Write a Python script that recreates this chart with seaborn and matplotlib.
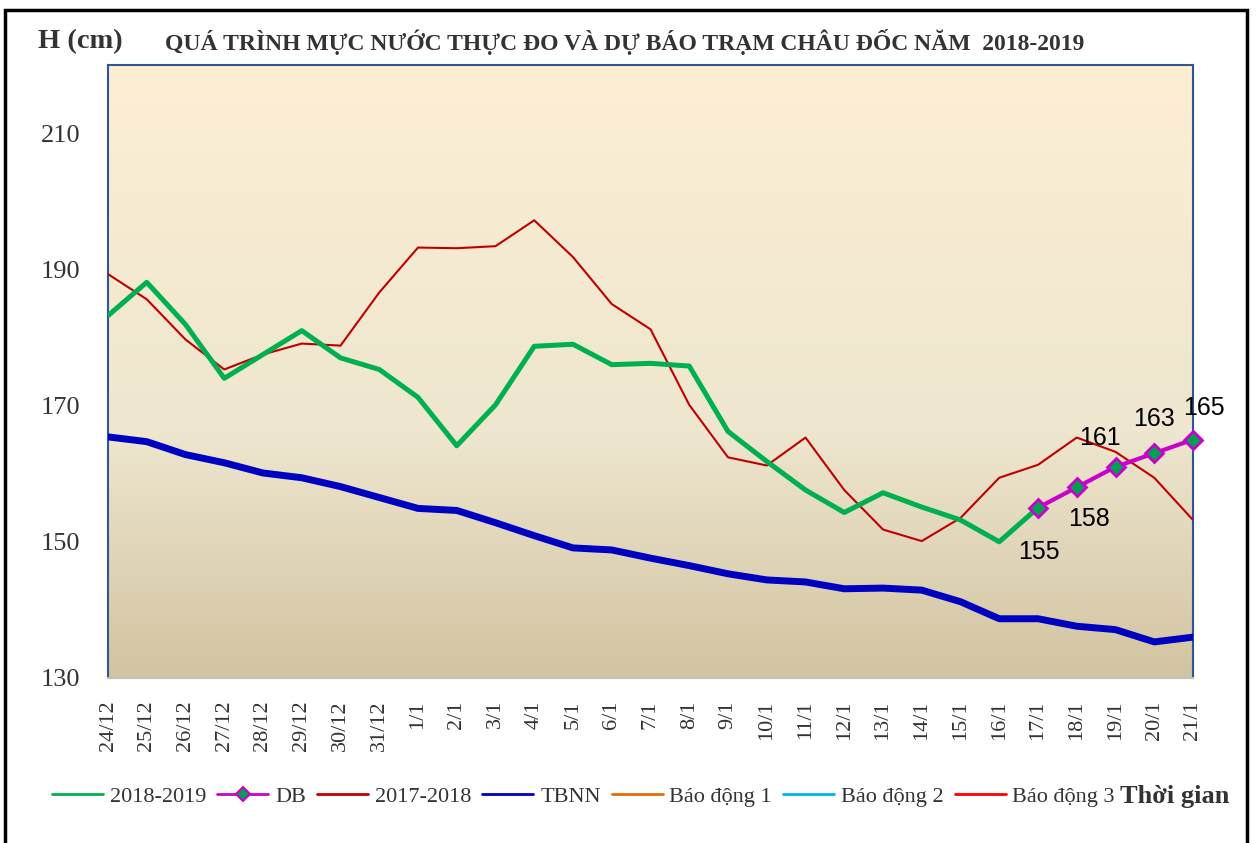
import numpy as np
import pandas as pd
import seaborn as sns
import matplotlib.pyplot as plt
from matplotlib.lines import Line2D
from matplotlib.colors import LinearSegmentedColormap
from matplotlib.patches import Rectangle

# ngay quan trac
ngay = ['24/12', '25/12', '26/12', '27/12', '28/12', '29/12', '30/12', '31/12',
        '1/1', '2/1', '3/1', '4/1', '5/1', '6/1', '7/1', '8/1', '9/1', '10/1',
        '11/1', '12/1', '13/1', '14/1', '15/1', '16/1', '17/1', '18/1', '19/1',
        '20/1', '21/1']

# muc nuoc (cm)
h_2018_2019 = [183.2, 188.1, 181.9, 174.0, 177.5, 181.0, 177.0, 175.3, 171.2, 164.1,
               170.1, 178.7, 179.0, 176.0, 176.2, 175.8, 166.2, 161.8, 157.6, 154.3,
               157.2, 155.1, 153.2, 150.0, 155.0]
h_db = [155, 158, 161, 163, 165]
h_2017_2018 = [189.3, 185.6, 179.7, 175.3, 177.5, 179.1, 178.8, 186.6, 193.2, 193.1,
               193.4, 197.2, 191.8, 184.9, 181.2, 170.1, 162.4, 161.2, 165.3, 157.6,
               151.8, 150.1, 153.5, 159.4, 161.3, 165.3, 163.2, 159.4, 153.2]
h_tbnn = [165.4, 164.7, 162.8, 161.6, 160.1, 159.4, 158.1, 156.5, 154.9, 154.6,
          152.8, 150.9, 149.1, 148.8, 147.6, 146.5, 145.3, 144.4, 144.1, 143.1,
          143.2, 142.9, 141.2, 138.7, 138.7, 137.6, 137.1, 135.3, 136.0]

x_all = np.arange(len(ngay))
df_18 = pd.DataFrame({'x': x_all[:len(h_2018_2019)], 'h': h_2018_2019})
df_db = pd.DataFrame({'x': x_all[-len(h_db):], 'h': h_db})
df_17 = pd.DataFrame({'x': x_all, 'h': h_2017_2018})
df_tb = pd.DataFrame({'x': x_all, 'h': h_tbnn})

sns.set_style("white")
plt.rcParams['font.family'] = ['Liberation Serif', 'DejaVu Serif']

fig = plt.figure(figsize=(12.58, 8.43), dpi=100)
ax = fig.add_axes([108 / 1258, 1 - 678 / 843, (1193 - 108) / 1258, (678 - 65) / 843])

# nen gradient
cmap = LinearSegmentedColormap.from_list('nen', [(0, '#d2c4a1'), (0.4, '#eee6cf'), (1, '#fdefd4')])
grad = np.linspace(0, 1, 256).reshape(-1, 1)
ax.imshow(grad, extent=[0, 28, 130, 220], origin='lower', aspect='auto', cmap=cmap, zorder=0)

sns.lineplot(data=df_tb, x='x', y='h', color='#0000c0', linewidth=5, ax=ax, zorder=3)
sns.lineplot(data=df_17, x='x', y='h', color='#c00000', linewidth=1.5, ax=ax, zorder=4)
sns.lineplot(data=df_18, x='x', y='h', color='#00b050', linewidth=3.6, ax=ax, zorder=5)
sns.lineplot(data=df_db, x='x', y='h', color='#cc00cc', linewidth=3, marker='D', markersize=9,
             markerfacecolor='#00a050', markeredgecolor='#cc00cc', markeredgewidth=2,
             ax=ax, zorder=6, clip_on=False)

# nhan du bao
offsets = [(1, -32), (9, -23), (-11, 21), (0, 25), (8, 23)]
for xi, v, off in zip(df_db['x'], df_db['h'], offsets):
    ax.annotate(str(v), (xi, v), xytext=off, textcoords='offset points', ha='center',
                va='center', fontsize=18, family='Liberation Sans', color='black', zorder=7)

ax.set_xlim(0, 28)
ax.set_ylim(130, 220)
ax.set_yticks([130, 150, 170, 190, 210])
ax.set_xticks(x_all)
ax.set_xticklabels(ngay, rotation=90, va='top')
ax.tick_params(axis='y', labelsize=19, pad=20, length=0, labelcolor='#333333')
ax.tick_params(axis='x', labelsize=16, pad=16, length=0, labelcolor='#333333')
ax.set_xlabel('')
ax.set_ylabel('')

for s in ['left', 'right', 'top']:
    ax.spines[s].set_color('#2f5597')
    ax.spines[s].set_linewidth(1.5)
ax.spines['bottom'].set_color('#bfbfbf')
ax.spines['bottom'].set_linewidth(1.5)

fig.text(38 / 1258, 1 - 42 / 843, 'H (cm)', fontsize=20.5, fontweight='bold', color='#333333', va='center')
fig.text(165 / 1258, 1 - 42 / 843, 'QUÁ TRÌNH MỰC NƯỚC THỰC ĐO VÀ DỰ BÁO TRẠM CHÂU ĐỐC NĂM  2018-2019',
         fontsize=17, fontweight='bold', color='#333333', va='center')

handles = [
    Line2D([], [], color='#00b050', lw=2),
    Line2D([], [], color='#cc00cc', lw=2, marker='D', markersize=7, markerfacecolor='#00a050',
           markeredgecolor='#cc00cc', markeredgewidth=1.5),
    Line2D([], [], color='#c00000', lw=2),
    Line2D([], [], color='#0000c0', lw=2),
    Line2D([], [], color='#e46c0a', lw=2),
    Line2D([], [], color='#00b0f0', lw=2),
    Line2D([], [], color='#ff0000', lw=2),
]
labels = ['2018-2019', 'DB', '2017-2018', 'TBNN', 'Báo động 1', 'Báo động 2', 'Báo động 3']
leg = fig.legend(handles, labels, loc='center left', bbox_to_anchor=(52 / 1258, 1 - 797 / 843),
                 ncol=7, frameon=False, fontsize=16, handlelength=2.3, handletextpad=0.3,
                 columnspacing=0.5, borderaxespad=0, borderpad=0)
for t in leg.get_texts():
    t.set_color('#333333')
fig.text(1120 / 1258, 1 - 797 / 843, 'Thời gian', fontsize=19, fontweight='bold', color='#333333', va='center')

# khung ngoai
fig.patches.append(Rectangle((5 / 1258, -0.01), 1242 / 1258, 1 - 10 / 843 + 0.01,
                             transform=fig.transFigure, fill=False, edgecolor='black', linewidth=2.5))

fig.savefig('out.png', dpi=100)
